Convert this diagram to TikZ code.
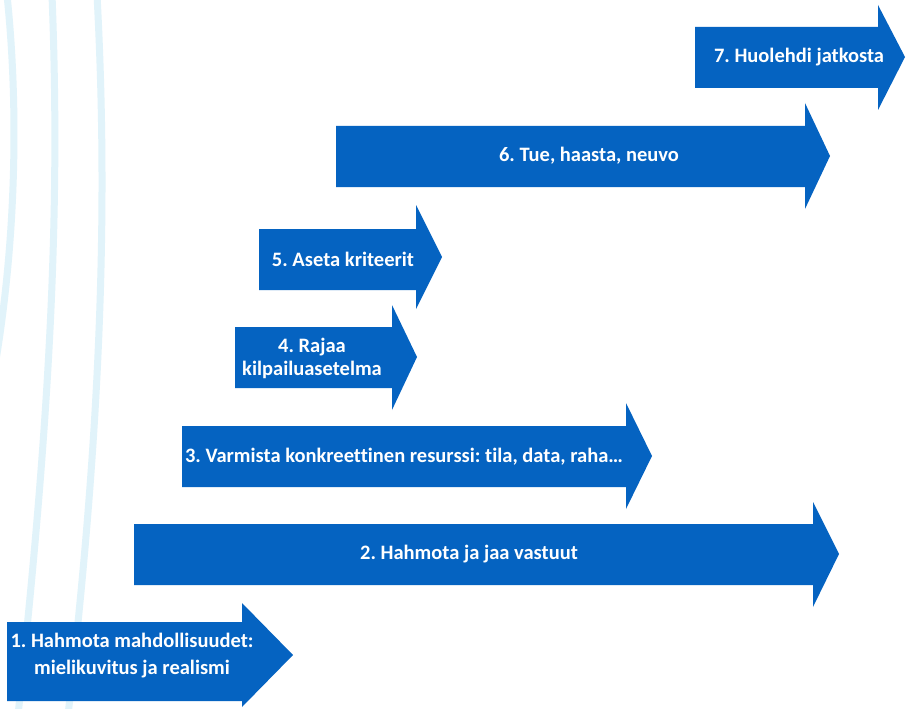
\documentclass[tikz,border=0pt]{standalone}
\usepackage{fontspec}
\setmainfont{Carlito}[Ligatures=NoCommon]
\frenchspacing
\definecolor{arrowblue}{RGB}{5,99,193}
\definecolor{bgline}{RGB}{225,243,250}
% #1 x left, #2 x head base, #3 x tip, #4 body top, #5 body bottom, #6 head top, #7 head bottom, #8 tip y
\newcommand{\blockarrow}[8]{%
  \fill[arrowblue] (#1,#4) -- (#2,#4) -- (#2,#6) -- (#3,#8) -- (#2,#7) -- (#2,#5) -- (#1,#5) -- cycle;}
\begin{document}
\begin{tikzpicture}[x=1pt,y=-1pt,
  lbl/.style={text=white,font=\bfseries\fontsize{20.5}{23}\selectfont,align=center,inner sep=0pt},
  bgcurve/.style={draw=bgline,line width=7pt}]
\useasboundingbox (0,0) rectangle (906,709);
\fill[white] (0,0) rectangle (906,709);
% background curves
\draw[bgcurve] (7,-5) .. controls (20,120) and (14,250) .. (-4,360);
\draw[bgcurve] (52,-5) .. controls (60,200) and (52,400) .. (18,715);
\draw[bgcurve] (97,-5) .. controls (108,200) and (102,420) .. (68,715);
% arrows
\blockarrow{695}{878}{905}{27}{88}{5}{110}{57}
\blockarrow{336}{805}{830}{126}{187}{103}{209}{156}
\blockarrow{259}{416}{442}{229}{290}{205}{309}{257}
\blockarrow{235}{392}{417}{327}{388}{305}{410}{357}
\blockarrow{182}{626}{652}{426}{487}{403}{509}{456}
\blockarrow{134}{813}{839}{524}{585}{502}{607}{554}
\blockarrow{7}{242}{293}{622}{701}{603}{707}{655}
% labels
\node[lbl] (t7) at (799,57) {7. Huolehdi jatkosta};
\node[lbl] (t6) at (589,156) {6. Tue, haasta, neuvo};
\node[lbl] (t5) at (343,259) {5. Aseta kriteerit};
\node[lbl] (t4) at (312,358) {4. Rajaa\\kilpailuasetelma};
\node[lbl] (t3) at (404,457) {3. Varmista konkreettinen resurssi: tila, data, raha\dots};
\node[lbl] (t2) at (469,554) {2. Hahmota ja jaa vastuut};
\node[lbl,font=\bfseries\fontsize{20.5}{27}\selectfont] (t1) at (132,656) {1. Hahmota mahdollisuudet:\\mielikuvitus ja realismi};
\end{tikzpicture}
\end{document}
